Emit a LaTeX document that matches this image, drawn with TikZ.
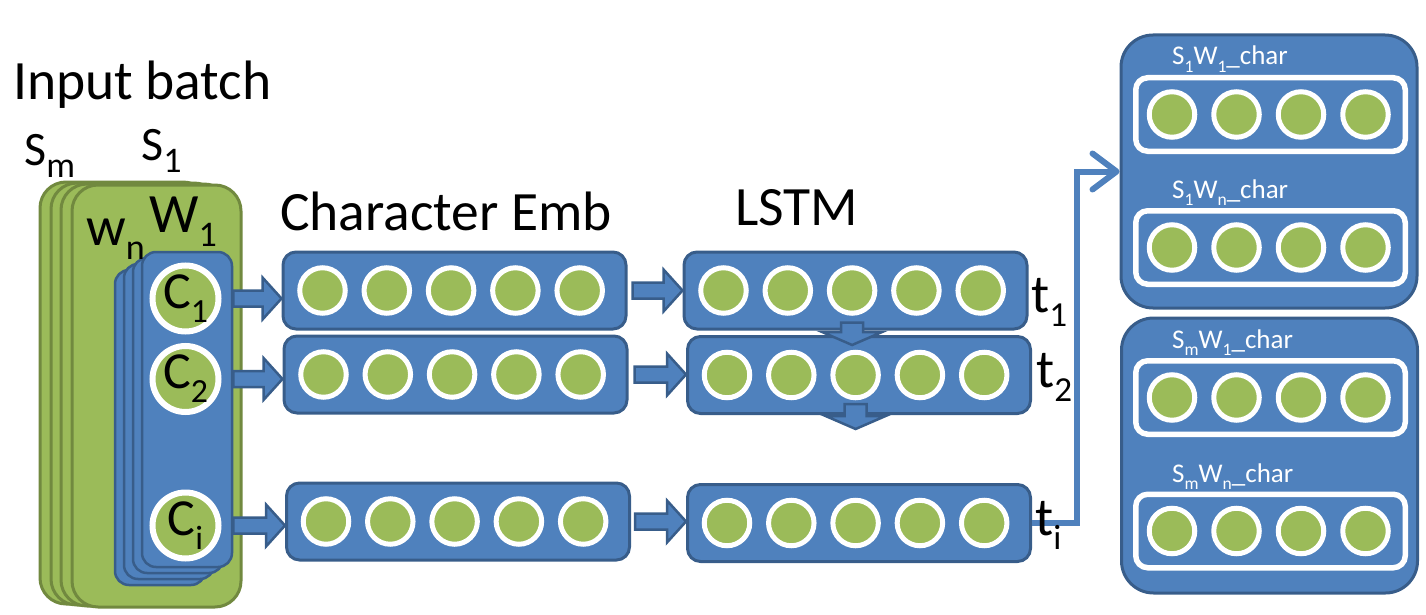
\documentclass[tikz,border=0pt]{standalone}
\usepackage{fontspec}
\setmainfont{Carlito}
\usepackage{graphicx}
\usetikzlibrary{arrows.meta,calc}
\definecolor{blu}{HTML}{4F81BD}
\definecolor{blud}{HTML}{385D8A}
\definecolor{grn}{HTML}{9BBB59}
\definecolor{grnd}{HTML}{71893F}
\newcommand\lo[2][0.65]{\raisebox{-0.27em}{\scalebox{#1}{#2}}}
\newcommand\harrow[2]{\path[blk] let \p1=(#1), \p2=(#2) in
  (\x1,\y1+8pt) -- (\x2-19pt,\y1+8pt) -- (\x2-19pt,\y1+21pt) -- (\x2,\y1)
  -- (\x2-19pt,\y1-21pt) -- (\x2-19pt,\y1-8pt) -- (\x1,\y1-8pt) -- cycle;}
\newcommand\varrow[2]{\path[blk] let \p1=(#1), \p2=(#2) in
  (\x1-11pt,\y1) -- (\x1-11pt,\y2+13pt) -- (\x1-30pt,\y2+13pt) -- (\x1,\y2)
  -- (\x1+30pt,\y2+13pt) -- (\x1+11pt,\y2+13pt) -- (\x1+11pt,\y1) -- cycle;}
\tikzset{
  gbox/.style={rectangle, rounded corners=26pt, fill=grn, draw=grnd, line width=3pt,
    minimum width=169pt, minimum height=422pt, inner sep=0pt},
  wbox/.style={rectangle, rounded corners=14pt, fill=blu, draw=blud, line width=2.5pt,
    minimum width=90pt, minimum height=315pt, inner sep=0pt},
  rowbox/.style={rectangle, rounded corners=13pt, fill=blu, draw=blud, line width=3pt,
    minimum width=343pt, minimum height=77pt, inner sep=0pt},
  outbox/.style={rectangle, rounded corners=32pt, fill=blu, draw=blud, line width=3pt,
    minimum width=296pt, inner sep=0pt},
  inbox/.style={rectangle, rounded corners=12pt, fill=blu, draw=white, line width=5.5pt,
    minimum width=269.5pt, minimum height=73.5pt, inner sep=0pt},
  dot/.style={circle, fill=grn, draw=white, line width=5pt, minimum size=45.5pt, inner sep=0pt},
  cdot/.style={circle, fill=grn, draw=white, line width=6pt, minimum size=66pt, inner sep=0pt,
    font=\fontsize{52}{58}\selectfont},
  blk/.style={fill=blu, draw=blud, line width=2.5pt, line join=miter},
  conn/.style={draw=blu, line width=6pt, -{Straight Barb[length=24pt,width=36pt,round]}},
  big/.style={font=\fontsize{55.5}{60}\selectfont, inner sep=0pt, anchor=base west},
  mid/.style={font=\fontsize{48}{54}\selectfont, inner sep=0pt, anchor=base west},
  tl/.style={font=\fontsize{54}{60}\selectfont, inner sep=0pt, anchor=base west},
  small/.style={font=\fontsize{27}{30}\selectfont, text=white, inner sep=0pt, anchor=base west}
}
\begin{document}
\begin{tikzpicture}[x=1pt,y=-1pt]
\useasboundingbox (0,0) rectangle (1426,615);

% sentence stack
\foreach \dx/\dy in {-32/-3,-21/-2,-11/-1}
  \node[gbox] at (156.5+\dx,396+\dy) {};
\node[gbox] (sent) at (156.5,396) {};

% word stack
\foreach \dx/\dy in {-27/18,-18/12,-9/6}
  \node[wbox] at (187+\dx,409.5+\dy) {};
\node[wbox] (word) at (187,409.5) {};

\node[cdot] (c1) at (185.5,298.5) {C\lo{1}};
\node[cdot] (c2) at (185.5,379) {C\lo{2}};
\node[cdot] (ci) at (185.5,525.5) {C\lo{i}};

% character embedding rows
\node[rowbox] (e1) at (454.5,290.5) {};
\node[rowbox] (e2) at (455.5,374.5) {};
\node[rowbox] (e3) at (458,521.5) {};
% LSTM rows
\node[rowbox] (l1) at (855.5,290.5) {};
\node[rowbox] (l2) at (859,375) {};
\node[rowbox] (l3) at (859,523) {};

\foreach \r in {e1,e2,e3,l1,l2,l3}
  \foreach \k in {1,...,5}
    \node[dot] (\r\k) at ($(\r.center)+(-132+64.3*\k-64.3,0)$) {};

% block arrows
\harrow{word.east |- c1}{e1.west |- c1}
\harrow{word.east |- c2}{e2.west |- c2}
\harrow{word.east |- ci}{e3.west |- ci}
\harrow{$(e1.east)+(5,0)$}{l1.west}
\harrow{$(e2.east)+(6,0)$}{l2.west}
\harrow{$(e3.east)+(4,0)$}{l3.west}
\varrow{$(l13 |- l1.south)+(0,-8)$}{$(l13 |- l2.north)+(0,10)$}
\coordinate (next) at ($(l23 |- l2.south)+(0,14)$);
\varrow{$(l23 |- l2.south)+(0,-11)$}{next}

% output boxes
\node[outbox, minimum height=273pt] (ob1) at (1269,171.5) {};
\node[outbox, minimum height=275pt] (ob2) at (1269.5,455.5) {};
\node[inbox] (i11) at (1270.5,114.5) {};
\node[inbox] (i12) at (1270.5,247.5) {};
\node[inbox] (i21) at (1270.5,397.5) {};
\node[inbox] (i22) at (1270.5,531) {};
\foreach \r in {i11,i12,i21,i22}
  \foreach \k in {1,...,4}
    \node[dot] (\r\k) at ($(\r.center)+(-98.5+64.5*\k-64.5,0)$) {};

% connector to output
\coordinate (bend) at (1077,523);
\draw[conn] (l3.east) -- (bend) |- (ob1.west);

% labels
\node[big] (tin) at (13,100) {Input batch};
\node[mid] (tsm) at (24,165) {S\lo[0.75]{m}};
\node[mid] (ts1) at (141,160) {S\lo[0.75]{1}};
\node[big] (twn) at (86,245) {w\lo{n}};
\node[big] (tw1) at (149,232) {W\lo{1}};
\node[big] (tce) at (280,230) {Character Emb};
\node[big] (tls) at (735,225) {LSTM};
\node[tl] (tt1) at (1031,312) {t\lo{1}};
\node[tl] (tt2) at (1036,387) {t\lo{2}};
\node[tl] (tti) at (1035,535) {t\lo{i}};
\node[small] (s11) at (1172,65) {S\lo{1}W\lo{1}\_char};
\node[small] (s1n) at (1172,198) {S\lo{1}W\lo{n}\_char};
\node[small] (sm1) at (1172,348) {S\lo{m}W\lo{1}\_char};
\node[small] (smn) at (1172,482) {S\lo{m}W\lo{n}\_char};
\end{tikzpicture}
\end{document}
